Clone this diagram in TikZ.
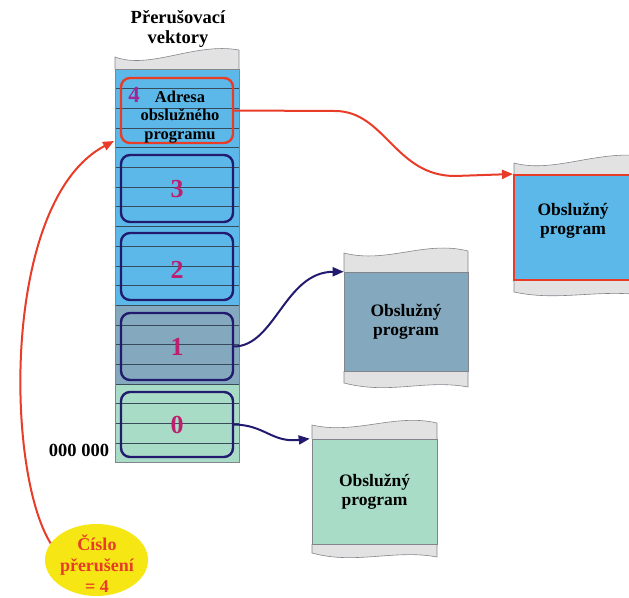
\documentclass[tikz,border=0pt]{standalone}
\usepackage{fontspec}
\setmainfont{Liberation Serif}
\usetikzlibrary{arrows.meta,shapes.geometric}
\definecolor{vblue}{RGB}{92,184,232}
\definecolor{vslate}{RGB}{132,168,190}
\definecolor{vmint}{RGB}{168,220,198}
\definecolor{vred}{RGB}{232,60,40}
\definecolor{vnavy}{RGB}{34,26,110}
\definecolor{vmag}{RGB}{190,30,110}
\definecolor{vpurp}{RGB}{160,40,150}
\definecolor{vgray}{RGB}{226,226,226}
\definecolor{vedge}{RGB}{130,134,140}
\definecolor{vline}{RGB}{55,75,90}
\definecolor{vyel}{RGB}{245,230,20}
\begin{document}
\begin{tikzpicture}[x=1pt,y=-1pt,
  vecbox/.style={draw=vnavy,line width=2.4pt,rounded corners=9pt,minimum width=112pt,inner sep=0pt},
  digit/.style={text=vmag,font=\bfseries\fontsize{26}{26}\selectfont},
  lbl/.style={font=\bfseries\fontsize{16}{18.5}\selectfont,align=center},
  navyarrow/.style={draw=vnavy,line width=2pt,-{Triangle[length=11pt,width=9pt]}},
  redarrow/.style={draw=vred,line width=2pt,-{Triangle[length=11pt,width=9pt]}},
  paper/.style={fill=vgray},
  paperedge/.style={draw=vedge,line width=0.6pt},
]
\clip (0,0) rectangle (629,597);
% ---- vector column ----
\fill[vgray] (115,57) .. controls (150,70) and (195,42) .. (239,50) -- (239,69) -- (115,69) -- cycle;
\draw[paperedge] (115,69) -- (115,57) .. controls (150,70) and (195,42) .. (239,50) -- (239,69);
\fill[vblue] (115,69) rectangle (239,305.25);
\fill[vslate] (115,305.25) rectangle (239,384);
\fill[vmint] (115,384) rectangle (239,462.75);
\foreach \k in {0,...,20} \draw[vline,line width=0.7pt] (115,{69+19.6875*\k}) -- (239,{69+19.6875*\k});
\node[draw=vedge,line width=0.6pt,minimum width=124pt,minimum height=393.75pt,inner sep=0pt] (col) at (177,265.875) {};
\coordinate (vin) at (114,141);

\node[vecbox,draw=vred,minimum height=65pt] (v4) at (177,110.5) {};
\node[vecbox,minimum height=67pt] (v3) at (177,188.5) {};
\node[vecbox,minimum height=67pt] (v2) at (177,266.5) {};
\node[vecbox,minimum height=67pt] (v1) at (177,346.5) {};
\node[vecbox,minimum height=65pt] (v0) at (177,424.5) {};

\node[lbl,font=\bfseries\fontsize{16.5}{18.5}\selectfont] (adr) at (180,117) {Adresa\\obslužného\\programu};
\node[digit,text=vpurp,font=\bfseries\fontsize{23}{23}\selectfont] (n4) at (134,94.5) {4};
\node[digit] (n3) at (177,189) {3};
\node[digit] (n2) at (177,270) {2};
\node[digit] (n1) at (177,347) {1};
\node[digit] (n0) at (177,425) {0};

\node[lbl,font=\bfseries\fontsize{18.5}{20}\selectfont] (title) at (178,29) {Přerušovací\\vektory};
\node[lbl,font=\bfseries\fontsize{18.5}{20}\selectfont] (addr0) at (79,450) {000 000};

% ---- top program (red) ----
\fill[paper] (514,163) .. controls (555,174) and (600,148) .. (650,157) -- (650,175) -- (514,175) -- cycle;
\draw[paperedge] (514,175) -- (514,163) .. controls (555,174) and (600,148) .. (650,157);
\fill[paper] (514,280) -- (650,280) -- (650,296) .. controls (600,288) and (560,302) .. (514,292) -- cycle;
\draw[paperedge] (514,280) -- (514,292) .. controls (560,302) and (600,288) .. (650,296);
\node[draw=vred,line width=2pt,fill=vblue,minimum width=126pt,minimum height=105pt,inner sep=0pt] (prog4) at (577,227.5) {};
\node[lbl,font=\bfseries\fontsize{17.5}{19}\selectfont] (t4) at (573,221) {Obslužný\\program};

% ---- middle program (slate) ----
\fill[paper] (344,253) .. controls (387,264) and (425,240) .. (468,251) -- (468,272) -- (344,272) -- cycle;
\draw[paperedge] (344,272) -- (344,253) .. controls (387,264) and (425,240) .. (468,251) -- (468,272);
\fill[paper] (344,371) -- (468,371) -- (468,387) .. controls (425,379) and (390,395) .. (344,383) -- cycle;
\draw[paperedge] (344,371) -- (344,383) .. controls (390,395) and (425,379) .. (468,387) -- (468,371);
\node[draw=vedge,line width=0.6pt,fill=vslate,minimum width=124pt,minimum height=99pt,inner sep=0pt,
      font=\bfseries\fontsize{17.5}{19}\selectfont,align=center] (prog1) at (406,321.5) {Obslužný\\program};

% ---- bottom program (mint) ----
\fill[paper] (312,425) .. controls (355,435) and (395,413) .. (437,423) -- (437,439) -- (312,439) -- cycle;
\draw[paperedge] (312,439) -- (312,425) .. controls (355,435) and (395,413) .. (437,423) -- (437,439);
\fill[paper] (312,544) -- (437,544) -- (437,557) .. controls (395,549) and (355,565) .. (312,553) -- cycle;
\draw[paperedge] (312,544) -- (312,553) .. controls (355,565) and (395,549) .. (437,557) -- (437,544);
\node[draw=vedge,line width=0.6pt,fill=vmint,minimum width=125pt,minimum height=105pt,inner sep=0pt,
      font=\bfseries\fontsize{17.5}{19}\selectfont,align=center] (prog0) at (374.5,491.5) {Obslužný\\program};

% ---- interrupt number ----
\node[ellipse,fill=vyel,minimum width=103pt,minimum height=72pt,inner sep=0pt] (ell) at (96.5,560) {};
\node[lbl,text=vred,font=\bfseries\fontsize{18}{21}\selectfont] (elltext) at (97,564) {Číslo\\přerušení\\= 4};

% ---- connectors ----
\draw[redarrow] (v4.east) -- (335,111) .. controls (385,111) and (395,176) .. (455,176) -- (prog4.north west);
\draw[redarrow] (ell.160) .. controls (5,470) and (2,200) .. (vin);
\draw[navyarrow] (v1.east) .. controls (275,346) and (285,272) .. (prog1.north west);
\draw[navyarrow] (v0.east) .. controls (265,425) and (272,443) .. ([xshift=-2pt]prog0.north west);
\end{tikzpicture}
\end{document}
